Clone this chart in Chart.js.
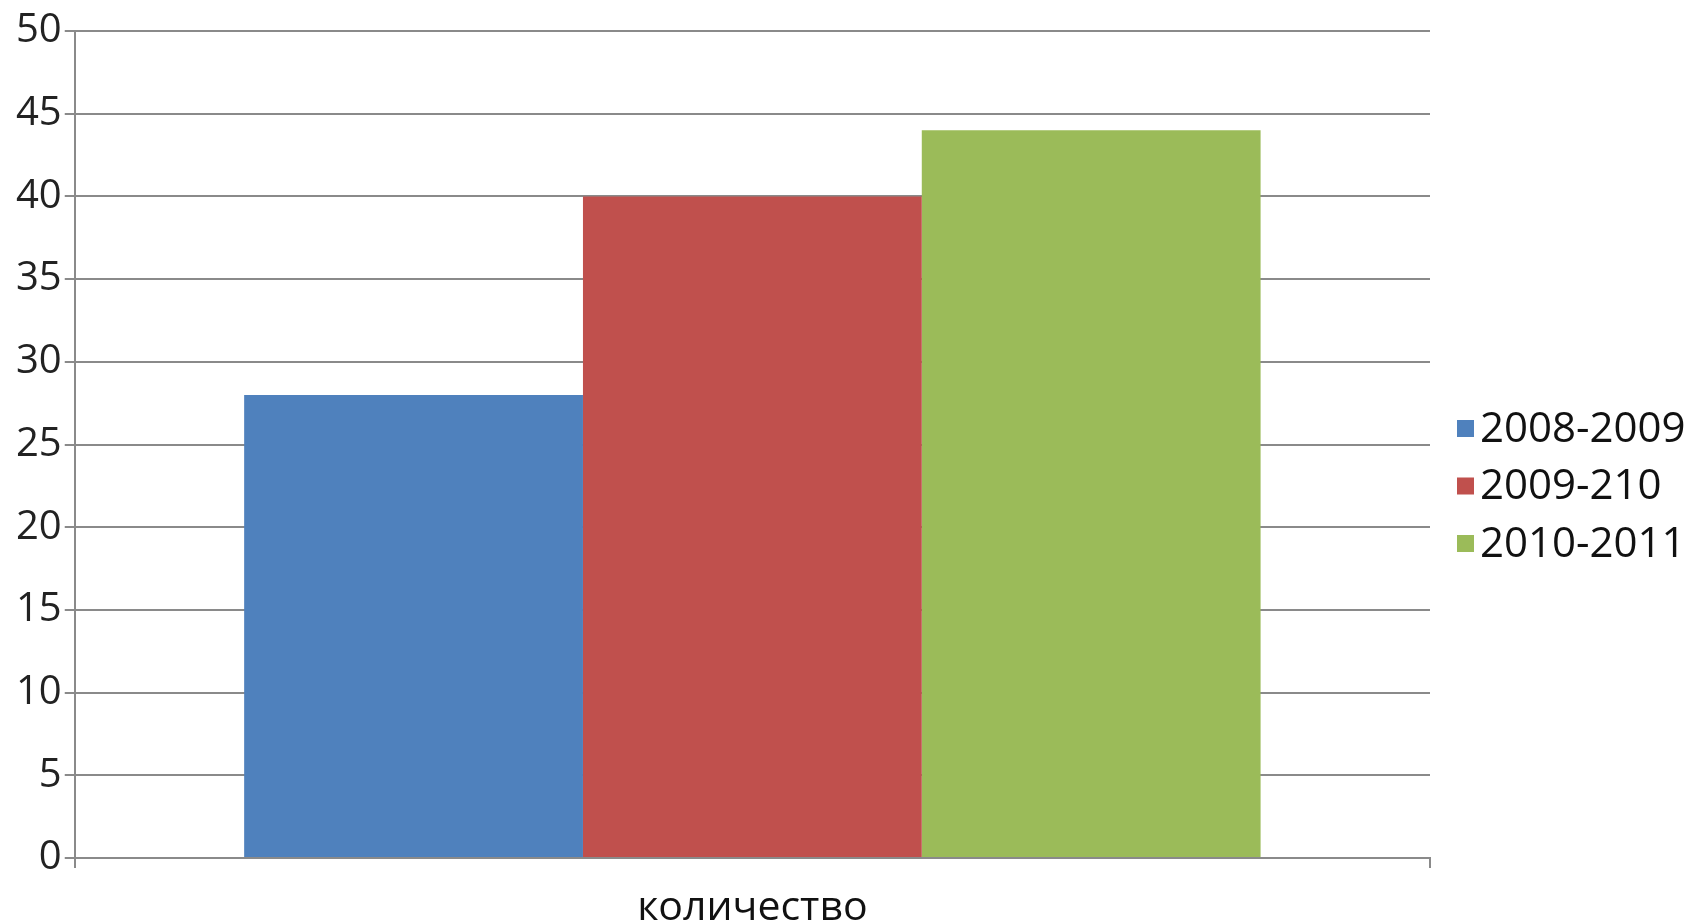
<!DOCTYPE html>
<html>
<head>
<meta charset="utf-8">
<script src="https://cdn.jsdelivr.net/npm/chart.js@4/dist/chart.umd.min.js"></script>
<style>
  html, body { margin: 0; padding: 0; background: #fff; }
  #wrap { width: 1692px; height: 923px; }
</style>
</head>
<body>
<div id="wrap"><canvas id="canvas-1"></canvas></div>
<script>
'use strict';
var categories = ['количество'];
var seriesNames = ['2008-2009', '2009-210', '2010-2011'];
var seriesValues = [[28], [40], [44]];
var seriesColors = ['#4F81BD', '#C0504D', '#9BBB59'];

var gridColor = '#8a8a8a';
var fontFamily = '"Open Sans", "DejaVu Sans", sans-serif';

// legend drawn at the right, like the excel one
var sideLegend = {
    id: 'sideLegend',
    afterDraw: function (chart) {
        var ctx = chart.ctx;
        var x = chart.chartArea.right + 27;
        var y = 429;
        ctx.save();
        ctx.font = '42px ' + fontFamily;
        ctx.textBaseline = 'middle';
        ctx.textAlign = 'left';
        chart.data.datasets.forEach(function (ds, i) {
            var cy = y + i * 57.5;
            ctx.fillStyle = ds.backgroundColor;
            ctx.fillRect(x, cy - 9, 17, 17);
            ctx.fillStyle = '#111';
            ctx.fillText(ds.label, x + 23, cy + 1);
        });
        ctx.restore();
    }
};

var barChartData = {
    labels: categories,
    datasets: seriesNames.map(function (name, i) {
        return {
            label: name,
            backgroundColor: seriesColors[i],
            borderWidth: 0,
            data: seriesValues[i]
        };
    })
};

var ctx = document.getElementById('canvas-1');
var chart = new Chart(ctx, {
    type: 'bar',
    data: barChartData,
    plugins: [sideLegend],
    options: {
        responsive: true,
        maintainAspectRatio: false,
        animation: false,
        layout: { padding: { left: 13, top: 31, right: 262, bottom: -26 } },
        plugins: {
            legend: { display: false },
            tooltip: { enabled: false }
        },
        datasets: {
            bar: { categoryPercentage: 0.75, barPercentage: 1.0 }
        },
        scales: {
            x: {
                offset: true,
                grid: {
                    display: true,
                    offset: true,
                    drawOnChartArea: false,
                    color: gridColor,
                    lineWidth: 2,
                    tickLength: 10
                },
                border: { display: true, color: gridColor, width: 2 },
                ticks: {
                    color: '#111',
                    padding: 20,
                    font: { family: fontFamily, size: 41, lineHeight: 1 }
                }
            },
            y: {
                min: 0,
                max: 50,
                ticks: {
                    stepSize: 5,
                    color: '#222',
                    padding: 3,
                    font: { family: fontFamily, size: 40 }
                },
                grid: {
                    color: gridColor,
                    lineWidth: 2,
                    tickLength: 10
                },
                border: { display: true, color: gridColor, width: 2 }
            }
        }
    }
});
</script>
</body>
</html>
